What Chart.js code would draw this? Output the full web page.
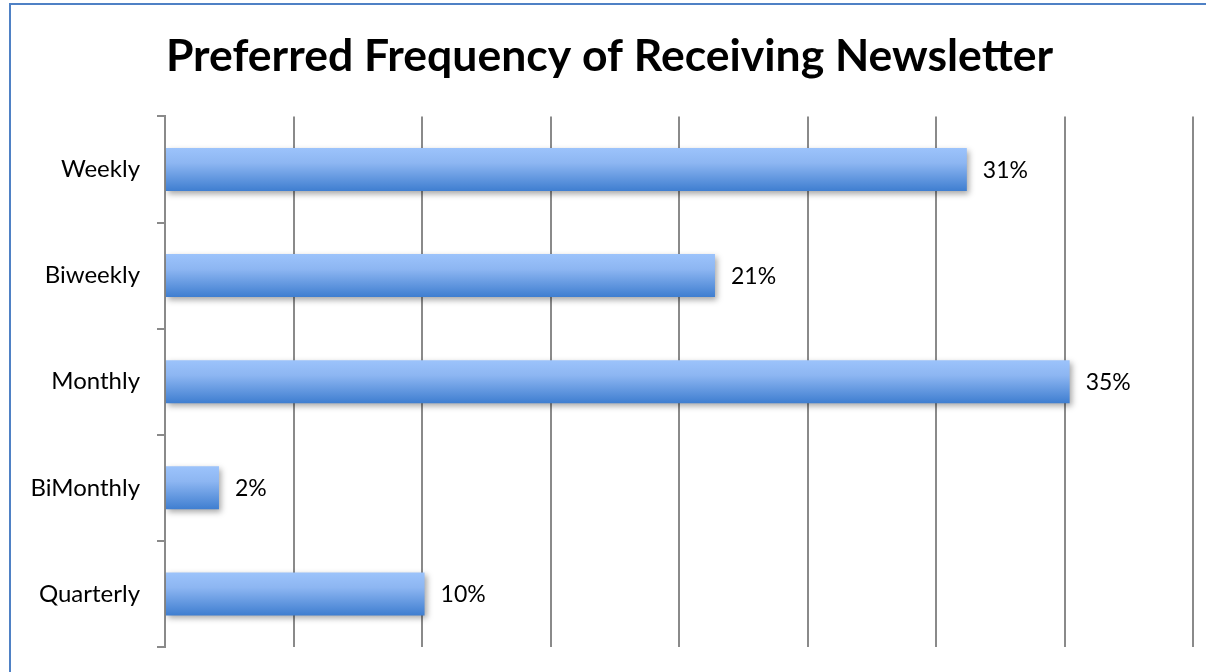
<!DOCTYPE html>
<html>
<head>
<meta charset="utf-8">
<script src="https://cdn.jsdelivr.net/npm/chart.js@4"></script>
<style>
  html, body { margin: 0; padding: 0; background: #ffffff; }
  #wrap { position: relative; width: 1206px; height: 672px; }
</style>
</head>
<body>
<div id="wrap"><canvas id="c" width="1206" height="672"></canvas></div>
<script>
const categories = ["Weekly", "Biweekly", "Monthly", "BiMonthly", "Quarterly"];
const values = [31.2, 21.4, 35.2, 2.1, 10.1];
const valueLabels = ["31%", "21%", "35%", "2%", "10%"];
const chartTitle = "Preferred Frequency of Receiving Newsletter";
const axisMax = 40;
const axisStep = 5;

const FONT = "Lato";
const BAR_FRACTION = 0.405;

function barGradient(context) {
  const chart = context.chart;
  const { ctx, chartArea, scales } = chart;
  if (!chartArea || !scales.y) return "#6a9de6";
  const center = scales.y.getPixelForValue(context.dataIndex);
  const half = (chartArea.bottom - chartArea.top) / categories.length * BAR_FRACTION / 2;
  const g = ctx.createLinearGradient(0, center - half, 0, center + half);
  g.addColorStop(0, "#9cc3fb");
  g.addColorStop(0.35, "#8db6f2");
  g.addColorStop(1, "#3f7ed0");
  return g;
}

const framePlugin = {
  id: "frame",
  beforeDraw(chart) {
    const ctx = chart.ctx;
    ctx.save();
    ctx.fillStyle = "#ffffff";
    ctx.fillRect(0, 0, chart.width, chart.height);
    ctx.strokeStyle = "#4f81c5";
    ctx.lineWidth = 2;
    ctx.beginPath();
    ctx.moveTo(10, chart.height + 5);
    ctx.lineTo(10, 4);
    ctx.lineTo(chart.width + 5, 4);
    ctx.stroke();
    ctx.restore();
  }
};

const shadowPlugin = {
  id: "barShadow",
  beforeDatasetDraw(chart) {
    const ctx = chart.ctx;
    ctx.save();
    ctx.shadowColor = "rgba(0,0,0,0.35)";
    ctx.shadowBlur = 6;
    ctx.shadowOffsetX = 2;
    ctx.shadowOffsetY = 3;
  },
  afterDatasetDraw(chart) {
    chart.ctx.restore();
  }
};

const labelPlugin = {
  id: "valueLabels",
  afterDatasetsDraw(chart) {
    const ctx = chart.ctx;
    const meta = chart.getDatasetMeta(0);
    ctx.save();
    ctx.fillStyle = "#000000";
    ctx.font = "23px " + FONT;
    ctx.textAlign = "left";
    ctx.textBaseline = "middle";
    meta.data.forEach((bar, i) => {
      ctx.fillText(valueLabels[i], bar.x + 16, bar.y + 1);
    });
    ctx.restore();
  }
};

new Chart(document.getElementById("c"), {
  type: "bar",
  data: {
    labels: categories,
    datasets: [{
      data: values,
      backgroundColor: barGradient,
      borderWidth: 0,
      barPercentage: BAR_FRACTION,
      categoryPercentage: 1.0
    }]
  },
  options: {
    indexAxis: "y",
    responsive: false,
    animation: false,
    devicePixelRatio: 1,
    layout: { padding: { left: 26, right: 13, top: 0, bottom: 25 } },
    plugins: {
      legend: { display: false },
      tooltip: { enabled: false },
      title: {
        display: true,
        text: chartTitle,
        color: "#000000",
        font: { family: FONT, size: 44.5, weight: "bold" },
        padding: { top: 30, bottom: 33 }
      }
    },
    scales: {
      x: {
        min: 0,
        max: axisMax,
        afterFit(scale) { scale.height = 0; },
        ticks: { display: false, stepSize: axisStep },
        grid: { color: "#8a8a8a", lineWidth: 2, drawTicks: false },
        border: { display: false }
      },
      y: {
        afterFit(scale) {
          scale.width = 139;
          scale.paddingTop = 0;
          scale.paddingBottom = 0;
        },
        ticks: {
          color: "#000000",
          font: { family: FONT, size: 24 },
          padding: 17
        },
        grid: {
          offset: true,
          drawOnChartArea: false,
          drawTicks: true,
          tickLength: 8,
          color: "#8a8a8a",
          lineWidth: 2
        },
        border: { display: true, color: "#8a8a8a", width: 2 }
      }
    }
  },
  plugins: [framePlugin, shadowPlugin, labelPlugin]
});
</script>
</body>
</html>
